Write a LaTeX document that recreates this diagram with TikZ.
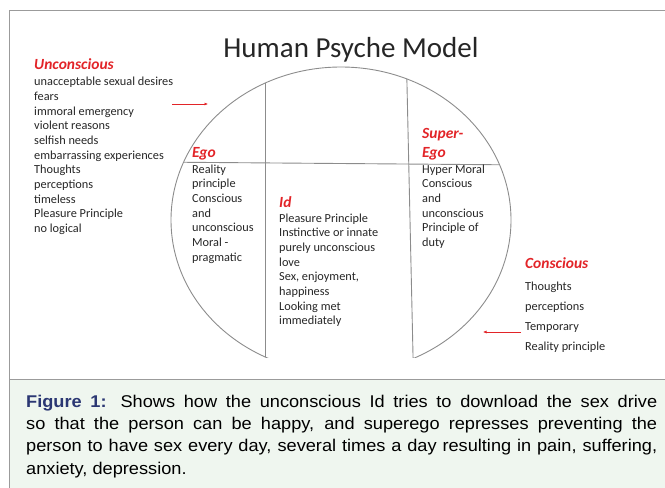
\documentclass[tikz,border=0pt]{standalone}
\usepackage{fontspec}
\setmainfont{Carlito}
\newfontfamily\captionfont[FakeStretch=1.07]{Liberation Sans}
\usetikzlibrary{arrows.meta,positioning}
\definecolor{psyRed}{RGB}{226,36,40}
\definecolor{lineGray}{RGB}{140,140,140}
\definecolor{frameGray}{RGB}{155,155,155}
\definecolor{capGreen}{RGB}{239,246,239}
\definecolor{figBlue}{RGB}{43,55,115}

\begin{document}
\begin{tikzpicture}[x=1pt,y=-1pt]
		\tikzstyle{heading} = [anchor=base west, inner sep=0pt, align=left, text=psyRed, 
		font=\fontsize{15.5}{19}\selectfont\bfseries\itshape]
		\tikzstyle{listing} = [anchor=base west, inner sep=0pt, align=left, text=black!85, 
		font=\fontsize{12.3}{14.7}\selectfont]
		\tikzstyle{divider} = [draw=lineGray, line width=0.9pt]
		\tikzstyle{arrow} = [draw=psyRed, line width=0.6pt, -{Latex[length=3.5pt,width=3pt]}]
		\useasboundingbox (0,0) rectangle (665,488);
		% frame and caption box
		\fill[capGreen] (9,379) rectangle (665,488);
		\draw[frameGray, line width=0.8pt] (665,10) -- (9,10) -- (9,488);
		\draw[frameGray, line width=0.8pt] (9,379) -- (665,379);
		% the psyche
		\begin{scope}
			\clip (0,0) rectangle (665,357);
			\draw[divider] (341,220) ellipse [x radius=170pt, y radius=153pt];
			\clip (341,220) ellipse [x radius=170pt, y radius=153pt];
			\draw[divider] (150,162) -- (530,165);
			\draw[divider] (265,40) -- (265,400);
			\draw[divider] (406,40) -- (414,400);
		\end{scope}
		\node (title) [anchor=base, inner sep=0pt, text=black!85, font=\fontsize{29}{34}\selectfont] at (351,57) {Human Psyche Model};
		% left side (multi-line nodes sit on their last baseline)
		\node (unconscious) [heading] at (34,69) {Unconscious};
		\node (unconsciousList) [listing] at (34,232.6) {unacceptable sexual desires\\fears\\immoral emergency\\violent reasons\\selfish needs\\embarrassing experiences\\Thoughts\\perceptions\\timeless\\Pleasure Principle\\no logical};
		\coordinate (inFrom) at (172,104);
		\coordinate (inTo) at (208,104);
		\draw [arrow] (inFrom) -- (inTo);
		% the three parts
		\node (ego) [heading] at (192,157) {Ego};
		\node (egoList) [listing] at (192,261.2) {Reality\\principle\\Conscious\\and\\unconscious\\Moral -\\pragmatic};
		\node (id) [heading] at (279,207) {Id};
		\node (idList) [listing] at (279,324.9) {Pleasure Principle\\Instinctive or innate\\purely unconscious\\love\\Sex, enjoyment,\\happiness\\Looking met\\immediately};
		\node (superego) [heading] at (422,157) {Super-\\Ego};
		\node (superegoList) [listing] at (422,246.5) {Hyper Moral\\Conscious\\and\\unconscious\\Principle of\\duty};
		% right side
		\node (conscious) [heading] at (525,268) {Conscious};
		\node (consciousList) [listing, font=\fontsize{12.3}{20.3}\selectfont] at (525,350.9) {Thoughts\\perceptions\\Temporary\\Reality principle};
		\coordinate (outFrom) at (521,332);
		\coordinate (outTo) at (483,332);
		\draw [arrow] (outFrom) -- (outTo);
		% caption
		\node (caption) [anchor=base west, inner sep=0pt, text width=631pt, align=justify, 
		font=\captionfont\fontsize{17}{22.4}\selectfont] at (26,407) {\textcolor{figBlue}{\textbf{Figure 1:}} Shows how the unconscious Id tries to download the sex drive\linebreak so that the person can be happy, and superego represses preventing the\linebreak person to have sex every day, several times a day resulting in pain, suffering,\linebreak anxiety, depression.};
\end{tikzpicture}
\end{document}
